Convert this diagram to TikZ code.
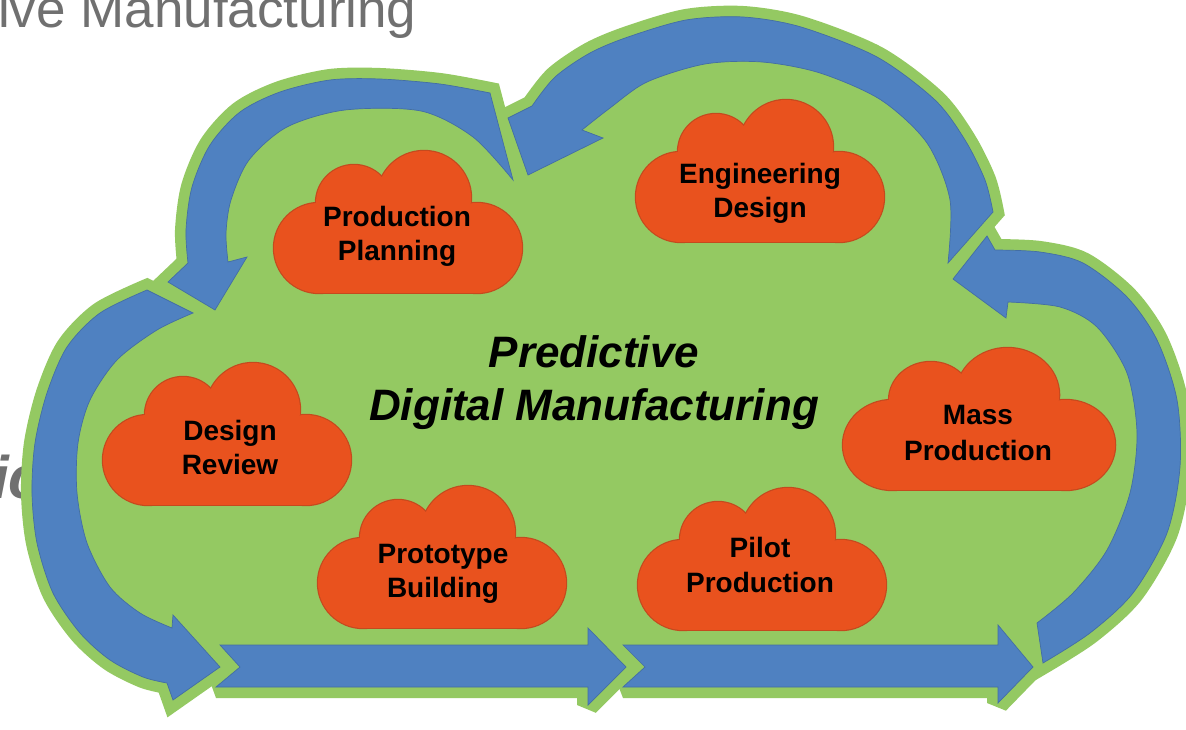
\documentclass[tikz,border=0pt]{standalone}
\usepackage{fontspec}
\setmainfont{Liberation Sans}
\definecolor{cgreen}{RGB}{148,201,98}
\definecolor{cblue}{RGB}{79,129,193}
\definecolor{corange}{RGB}{233,82,30}
\definecolor{cedge}{RGB}{196,74,30}
\definecolor{cgray}{RGB}{112,112,112}
% arrow outlines (pixel coordinates, y downwards)
\newcommand{\arrL}{plot[smooth] coordinates {(147,290) (100,313) (67,347) (47,393) (35,443) (32,493) (37,543) (53,593) (80,633) (110,660) (143,677) (167,683)} -- (173,700) -- (220,667) -- (173,615) -- plot[smooth] coordinates {(172,628) (140,613) (110,587) (87,543) (77,493) (78,443) (90,400) (117,360) (157,330) (193,313)} -- cycle}
\newcommand{\arrBa}{(220,645) -- (588,645) -- (588,628) -- (626,667) -- (588,705) -- (588,687) -- (216,687) -- (240,667) -- cycle}
\newcommand{\arrBb}{(623,645) -- (998,645) -- (998,625) -- (1033,667) -- (998,703) -- (998,687) -- (623,687) -- (645,667) -- cycle}
\newcommand{\arrR}{plot[smooth] coordinates {(1043,663) (1090,633) (1133,593) (1167,533) (1180,467) (1177,400) (1157,340) (1127,297) (1083,263) (1040,252) (995,250)} -- (987,236) -- (953,279) -- (1006,318) -- plot[smooth] coordinates {(1008,302) (1060,307) (1097,327) (1127,373) (1137,433) (1130,493) (1107,550) (1073,593) (1037,623)} -- cycle}
\newcommand{\arrTR}{plot[smooth] coordinates {(993,212) (985,180) (965,140) (935,100) (877,57) (801,27) (743,17) (686,20) (628,37) (590,53) (555,77) (532,106)} -- (508,118) -- (528,175) -- (603,138) -- plot[smooth] coordinates {(582,130) (610,108) (647,82) (705,64) (762,62) (820,73) (881,100) (927,143) (950,200) (948,263)} -- cycle}
\newcommand{\arrTL}{plot[smooth] coordinates {(490,93) (440,84) (380,79) (330,80) (280,92) (240,112) (210,145) (192,187) (186,230) (188,263)} -- (168,282) -- (215,310) -- (247,257) -- plot[smooth] coordinates {(228,262) (226,233) (231,200) (249,160) (287,127) (345,110) (421,111) (473,137) (513,180)} -- cycle}
% orange cloud shape, bottom-left corner at (#1,#2), horizontal scale #3
\newcommand{\ocloud}[3]{%
  \begin{scope}[shift={(#1,#2)},xscale=#3]
    \foreach \cx/\cy/\rr in {45/-45/45, 80/-90/38, 150/-95/47, 203/-45/45}
      \filldraw[fill=corange, draw=cedge, line width=2.4pt] (\cx,\cy) circle[radius=\rr];
    \filldraw[fill=corange, draw=cedge, line width=2.4pt] (45,0) rectangle (203,-85);
    \foreach \cx/\cy/\rr in {45/-45/45, 80/-90/38, 150/-95/47, 203/-45/45}
      \fill[corange] (\cx,\cy) circle[radius=\rr];
    \fill[corange] (45,0) rectangle (203,-85);
  \end{scope}}
\begin{document}
\begin{tikzpicture}[x=1pt,y=-1pt,
  halo/.style={fill=cgreen, draw=cgreen, line width=22pt, line join=miter, miter limit=2},
  bluebody/.style={fill=cblue, draw=cblue!85!black, line width=0.7pt},
  lab/.style={font=\fontsize{28}{34}\selectfont\bfseries, anchor=base, inner sep=0pt, text=black},
  ttl/.style={font=\fontsize{44}{54}\selectfont\bfseries\itshape, anchor=base, inner sep=0pt, text=black}]
\useasboundingbox (0,0) rectangle (1186,730);
\fill[white] (0,0) rectangle (1186,730);
% gray background texts
\node[font=\fontsize{53}{62}\selectfont, text=cgray, anchor=base west, inner sep=0pt] (bgtitle) at (-2,28) {ive Manufacturing};
\node[font=\fontsize{60}{70}\selectfont\bfseries\itshape, text=cgray, anchor=base west, inner sep=0pt] (bgside) at (-8,498) {ic};
% green cloud body (follows the middle of the arrow bands)
\fill[cgreen] (170,301) -- (110,336) -- (78,373) -- (62,420) -- (55,470) -- (57,520) -- (67,570) -- (90,615) -- (125,645) -- (165,660)
  -- (230,666) -- (610,666) -- (1020,664)
  -- (1055,630) -- (1100,600) -- (1140,550) -- (1158,480) -- (1157,415) -- (1140,355) -- (1110,312) -- (1070,285) -- (1020,277)
  -- (970,237) -- (968,195) -- (950,140) -- (910,95) -- (850,60) -- (780,42) -- (720,40) -- (665,45) -- (615,60) -- (580,85) -- (555,120)
  -- (520,150) -- (495,140) -- (460,115) -- (400,95) -- (340,95) -- (285,110) -- (245,135) -- (220,170) -- (208,215) -- (207,262) -- cycle;
\path[halo] \arrL;
\path[halo] \arrBa;
\path[halo] \arrBb;
\path[halo] \arrR;
\path[halo] \arrTR;
\path[halo] \arrTL;
% blue arrows
\path[bluebody] \arrL;
\path[bluebody] \arrBa;
\path[bluebody] \arrBb;
\path[bluebody] \arrR;
\path[bluebody] \arrTR;
\path[bluebody] \arrTL;
% orange clouds
\ocloud{274}{293}{1}
\ocloud{636}{242}{1}
\ocloud{103}{505}{1}
\ocloud{318}{628}{1}
\ocloud{843}{490}{1.097}
\ocloud{638}{630}{1}
% labels
\node[lab] (pp1) at (397,226) {Production};
\node[lab] (pp2) at (397,261) {Planning};
\node[lab] (ed1) at (760,184) {Engineering};
\node[lab] (ed2) at (760,218) {Design};
\node[lab] (dr1) at (230,440) {Design};
\node[lab] (dr2) at (230,474) {Review};
\node[lab] (pb1) at (443,563) {Prototype};
\node[lab] (pb2) at (443,597) {Building};
\node[lab] (mp1) at (978,424) {Mass};
\node[lab] (mp2) at (978,460) {Production};
\node[lab] (pi1) at (760,557) {Pilot};
\node[lab] (pi2) at (760,592) {Production};
% central title
\node[ttl] (t1) at (594,367) {Predictive};
\node[ttl] (t2) at (594,420) {Digital Manufacturing};
\end{tikzpicture}
\end{document}
